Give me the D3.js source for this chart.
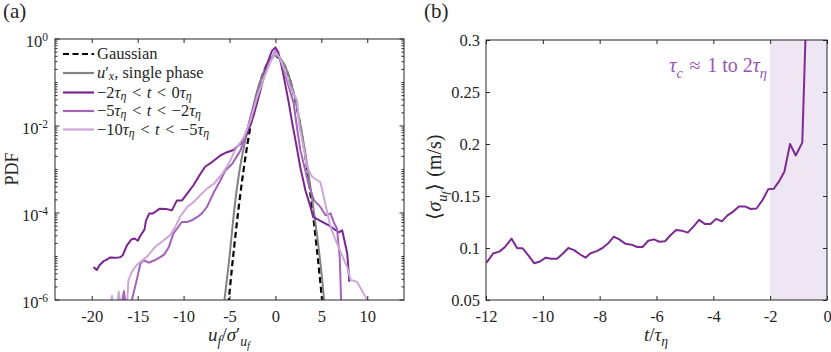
<!DOCTYPE html>
<html><head><meta charset="utf-8">
<script src="https://cdn.jsdelivr.net/npm/d3@7"></script>
<style>
body{margin:0;background:#fff}
svg text, svg tspan{font-family:"Liberation Serif","Times New Roman",serif}
text{fill:#262626}
</style>
</head><body>
<svg id="c" width="831" height="352"></svg>
<script>
// ---------------- DATA ----------------
// Panel (a): PDFs of u_f / sigma'_uf
const gaussU   = [-5.5,-5,-4.5,-4,-3.5,-3,-2.5,-2,-1.5,-1,-0.5,0,0.5,1,1.5,2,2.5,3,3.5,4,4.5,5,5.5];
const gaussPdf = [1.077e-7,1.487e-6,1.598e-5,1.338e-4,8.727e-4,4.432e-3,1.753e-2,5.399e-2,0.1295,0.2420,0.3521,0.3989,0.3521,0.2420,0.1295,5.399e-2,1.753e-2,4.432e-3,8.727e-4,1.338e-4,1.598e-5,1.487e-6,1.077e-7];

const singleU   = [-5.8,-5.55,-5.0,-4.45,-4.0,-3.5,-3.0,-2.5,-2.0,-1.5,-1.0,-0.5,0,0.5,1,1.5,2,2.5,3,3.5,4,4.5,5,5.3,5.5];
const singlePdf = [4e-7,1e-6,1e-5,1.35e-4,7.1e-4,2.8e-3,8.9e-3,2.4e-2,6.3e-2,0.132,0.234,0.339,0.41,0.363,0.251,0.135,5.6e-2,1.86e-2,5.0e-3,1.12e-3,2.1e-4,3.5e-5,4.5e-6,1e-6,3.2e-7];

const darkU   = [-19.81,-19.45,-19.16,-18.72,-18.36,-17.99,-17.45,-16.9,-16.61,-16.17,-15.70,-15.34,-14.98,-14.72,-14.25,-14.1,-13.74,-13.34,-12.98,-12.61,-11.89,-11.27,-10.72,-10.17,-9.63,-8.91,-8.18,-7.63,-6.9,-6.0,-5.27,-4.55,-3.82,-3.09,-2.37,-1.64,-0.91,-0.36,0.0,0.3,0.6,0.9,1.1,1.45,1.8,2.2,2.7,3.27,3.82,4.11,4.9,5.8,6.9,7.27,7.82,8.05];
const darkPdf = [5.75e-6,4.9e-6,6.3e-6,7.8e-6,8.5e-6,9.5e-6,9.3e-6,9.6e-6,1.07e-5,1.8e-5,2.45e-5,2.6e-5,2.3e-5,2.95e-5,4.2e-5,6.6e-5,9.8e-5,9.8e-5,1.1e-4,1.26e-4,1.23e-4,1.15e-4,1.95e-4,1.95e-4,2.75e-4,4.4e-4,7.9e-4,1.17e-3,1.48e-3,2.1e-3,2.5e-3,2.8e-3,3.9e-3,6.6e-3,1.74e-2,6.5e-2,0.27,0.54,0.64,0.5,0.28,0.14,8.5e-2,3.5e-2,1.26e-2,4.5e-3,1.15e-3,3.3e-4,1.38e-4,8.1e-5,6.6e-5,5.2e-5,3.6e-5,4.0e-5,1.17e-5,2.6e-6];

const medU   = [-16.9,-16.5,-16.2,-15.63,-15.1,-14.7,-14.4,-13.8,-13.1,-12.5,-12.1,-11.6,-11.1,-10.7,-10.2,-9.6,-9.1,-8.5,-8.0,-7.45,-6.7,-6.0,-5.45,-4.7,-3.8,-3.1,-2.5,-2.0,-1.3,-0.6,0,0.5,1.0,1.5,2.0,2.35,2.7,3.6,4.2,4.9,5.45,6.0,6.4,6.7,7.0,7.15,7.25];
const medPdf = [5e-7,1.6e-6,5e-7,1e-6,2.9e-6,6.9e-6,8.3e-6,7.2e-6,8.3e-6,9.8e-6,1.12e-5,1.66e-5,3.4e-5,4.4e-5,6.2e-5,6.2e-5,6.8e-5,8.1e-5,9.8e-5,1.38e-4,3.0e-4,5.6e-4,9.5e-4,1.35e-3,2.75e-3,7.9e-3,2.2e-2,4.8e-2,0.13,0.3,0.53,0.34,0.17,7.5e-2,3.2e-2,9e-3,2.9e-3,4.7e-4,1.95e-4,1.38e-4,8.9e-5,9.8e-5,5.8e-5,4.4e-5,9.8e-6,1e-6,3e-7];

const lightU   = [-18.2,-17.8,-17.45,-17.06,-16.6,-16.2,-16.0,-15.7,-15.3,-14.7,-14.0,-13.1,-12.2,-11.45,-10.9,-10.4,-9.6,-8.9,-8.2,-7.45,-6.7,-5.8,-5.1,-4.4,-3.45,-2.7,-2.0,-1.3,-0.6,0,0.5,1.0,1.6,2.0,2.36,2.6,2.9,3.45,4.0,4.9,6.0,6.7,7.8,8.2,8.9,10.0,10.2];
const lightPdf = [3e-7,1.25e-6,3e-7,1.55e-6,3e-7,6e-7,2.9e-6,4.1e-6,5.75e-6,7.6e-6,9.8e-6,1.66e-5,2.34e-5,3.1e-5,4.8e-5,8.1e-5,1.38e-4,1.78e-4,2.57e-4,3.63e-4,4.7e-4,7.9e-4,1.35e-3,2.75e-3,5.5e-3,1.35e-2,4.5e-2,0.12,0.28,0.49,0.36,0.2,8e-2,5.5e-2,3.85e-2,1.0e-2,5e-3,1.15e-3,6.8e-4,5.1e-4,4.8e-5,2.0e-5,5.75e-6,2.9e-6,2.6e-6,1e-6,5e-7];

// Panel (b): <sigma_uf> vs t/tau_eta
const tVals = [-11.98,-11.74,-11.53,-11.33,-11.1,-10.9,-10.71,-10.51,-10.3,-10.1,-9.9,-9.7,-9.5,-9.32,-9.1,-8.9,-8.7,-8.5,-8.32,-8.1,-7.9,-7.7,-7.5,-7.31,-7.09,-6.88,-6.68,-6.49,-6.29,-6.09,-5.9,-5.7,-5.5,-5.31,-5.11,-4.9,-4.7,-4.5,-4.29,-4.1,-3.9,-3.7,-3.5,-3.3,-3.1,-2.89,-2.68,-2.48,-2.27,-2.07,-1.87,-1.69,-1.5,-1.3,-1.1,-0.87,-0.67];
const sigmaVals = [0.086,0.095,0.0965,0.101,0.109,0.0997,0.0997,0.093,0.0853,0.087,0.0907,0.0897,0.0897,0.094,0.100,0.098,0.094,0.0907,0.095,0.097,0.100,0.1045,0.111,0.1083,0.104,0.1032,0.101,0.101,0.107,0.1083,0.106,0.1065,0.1125,0.1173,0.1167,0.1148,0.1205,0.127,0.123,0.123,0.128,0.1256,0.1314,0.135,0.140,0.140,0.1375,0.138,0.146,0.1564,0.157,0.164,0.1734,0.200,0.189,0.2013,0.38];

const xTicksA = [-20,-15,-10,-5,0,5,10];
const yTicksA = [1e-6,1e-4,1e-2,1];
const yExpA   = ["-6","-4","-2","0"];
const xTicksB = [-12,-10,-8,-6,-4,-2,0];
const yTicksB = [0.05,0.1,0.15,0.2,0.25,0.3];
const yLabelsB = ["0.05","0.1","0.15","0.2","0.25","0.3"];
const shadeRange = [-2,0];

// ---------------- DRAW ----------------
const svg = d3.select("#c");
const AX = "#262626";
const colDark = "#7b2590", colMed = "#a463b9", colLight = "#cca7d9", colGray = "#828282";
const FS = 16.5;
const SP = "\u2004";

function rich(sel, parts, size, subDrop) {
  const sd = subDrop == null ? 0.28 : subDrop;
  let level = 0;
  parts.forEach(p => {
    const [t, type, dx] = p;
    let target = 0, fs = size, it = false;
    if (type === "i") it = true;
    if (type === "sub") { target = sd*size; fs = 0.72*size; it = true; }
    if (type === "ss") { target = 0.4*size; fs = 0.55*size; it = true; }
    if (type === "sup") { target = -0.38*size; fs = 0.7*size; }
    const ts = sel.append("tspan").attr("dy", target - level).attr("font-size", fs)
      .attr("font-style", it ? "italic" : "normal").text(t);
    if (dx) ts.attr("dx", dx);
    level = target;
  });
}

// ===== Panel (a) =====
const xA = d3.scaleLinear().domain([-24,14]).range([55,404]);
const yA = d3.scaleLog().domain([1e-6,1]).range([300,39]);

svg.append("clipPath").attr("id","clipA").append("rect")
  .attr("x",55).attr("y",39).attr("width",349).attr("height",261);

const gA = svg.append("g");
const lineA = (U,P,curve) => d3.line().x((d,i)=>xA(U[i])).y((d,i)=>yA(P[i])).curve(curve||d3.curveLinear)(U);

const plotA = gA.append("g").attr("clip-path","url(#clipA)");
plotA.append("path").attr("d", lineA(gaussU,gaussPdf,d3.curveCatmullRom)).attr("fill","none")
  .attr("stroke","#000").attr("stroke-width",2.2).attr("stroke-dasharray","6,3.5");
plotA.append("path").attr("d", lineA(singleU,singlePdf,d3.curveCatmullRom)).attr("fill","none")
  .attr("stroke",colGray).attr("stroke-width",2);
plotA.append("path").attr("d", lineA(darkU,darkPdf)).attr("fill","none")
  .attr("stroke",colDark).attr("stroke-width",2).attr("stroke-linejoin","round");
plotA.append("path").attr("d", lineA(medU,medPdf)).attr("fill","none")
  .attr("stroke",colMed).attr("stroke-width",2).attr("stroke-linejoin","round");
plotA.append("path").attr("d", lineA(lightU,lightPdf)).attr("fill","none")
  .attr("stroke",colLight).attr("stroke-width",2).attr("stroke-linejoin","round");

// axes a
const axA = gA.append("g");
axA.append("g").attr("transform","translate(0,300)")
  .call(d3.axisBottom(xA).tickValues(xTicksA).tickSize(-4).tickPadding(10).tickFormat(d=>d<0?"-"+(-d):""+d))
  .call(g=>{g.select(".domain").remove(); g.attr("font-family",null); g.selectAll("line").attr("stroke",AX);
           g.selectAll("text").attr("font-size",FS).attr("fill",AX);});
axA.append("g").attr("transform","translate(0,39)")
  .call(d3.axisTop(xA).tickValues(xTicksA).tickSize(-4).tickFormat(""))
  .call(g=>{g.select(".domain").remove(); g.selectAll("line").attr("stroke",AX);});
const minorA = [];
for (let n=-6;n<0;n++) for (let k=2;k<=9;k++) minorA.push(k*Math.pow(10,n));
[1e-5,1e-3,1e-1].forEach(v=>minorA.push(v));
[[55,1],[404,-1]].forEach(([x0,s])=>{
  axA.selectAll(null).data(minorA).enter().append("line")
    .attr("x1",x0).attr("x2",x0+s*2.5).attr("y1",d=>yA(d)).attr("y2",d=>yA(d)).attr("stroke",AX);
  axA.selectAll(null).data(yTicksA).enter().append("line")
    .attr("x1",x0).attr("x2",x0+s*4.5).attr("y1",d=>yA(d)).attr("y2",d=>yA(d)).attr("stroke",AX);
});
yTicksA.forEach((v,i)=>{
  const t = axA.append("text").attr("x",48).attr("y",yA(v)+8).attr("text-anchor","end");
  rich(t,[["10","r"],[yExpA[i],"sup"]],FS);
});
gA.append("rect").attr("x",55).attr("y",39).attr("width",349).attr("height",261)
  .attr("fill","none").attr("stroke",AX).attr("stroke-width",1);

// legend a
const LT = SP+"<"+SP;
const legItems = [
  {stroke:"#000", dash:"6,3.5", parts:[["Gaussian","r"]]},
  {stroke:colGray, parts:[["u","i"],["′","r"],["x","sub"],[", single phase","r"]]},
  {stroke:colDark, parts:[["−2","r"],["τ","i"],["η","sub"],[LT,"r"],["t","i"],[LT+"0","r"],["τ","i"],["η","sub"]]},
  {stroke:colMed, parts:[["−5","r"],["τ","i"],["η","sub"],[LT,"r"],["t","i"],[LT+"−2","r"],["τ","i"],["η","sub"]]},
  {stroke:colLight, parts:[["−10","r"],["τ","i"],["η","sub"],[LT,"r"],["t","i"],[LT+"−5","r"],["τ","i"],["η","sub"]]}
];
const legY = [54,73,92.5,111,129.5];
legItems.forEach((it,i)=>{
  const y = legY[i];
  gA.append("line").attr("x1",63).attr("x2",94).attr("y1",y).attr("y2",y)
    .attr("stroke",it.stroke).attr("stroke-width",2.2).attr("stroke-dasharray",it.dash||null);
  const t = gA.append("text").attr("x",97).attr("y",y+5);
  rich(t,it.parts,16.5,0.13);
});

// labels a
const pdfL = svg.append("text").attr("transform","translate(18,169) rotate(-90)").attr("text-anchor","middle");
rich(pdfL,[["PDF","r"]],18);
const xlA = svg.append("text").attr("x",229).attr("y",341).attr("text-anchor","middle");
rich(xlA,[["u","i"],["f","sub"],["/","r"],["σ","i"],["′","r"],["u","sub"],["f","ss"]],19);
svg.append("text").attr("x",3).attr("y",18).attr("font-size",21).text("(a)");

// ===== Panel (b) =====
const xB = d3.scaleLinear().domain([-12,0]).range([486,827]);
const yB = d3.scaleLinear().domain([0.05,0.3]).range([300,40]);
svg.append("clipPath").attr("id","clipB").append("rect")
  .attr("x",486).attr("y",40).attr("width",341).attr("height",260);
const gB = svg.append("g");
gB.append("rect").attr("x",xB(shadeRange[0])).attr("y",40).attr("width",xB(shadeRange[1])-xB(shadeRange[0])).attr("height",260)
  .attr("fill","#efe6f4");
gB.append("g").attr("clip-path","url(#clipB)").append("path")
  .attr("d", d3.line().x((d,i)=>xB(tVals[i])).y((d,i)=>yB(sigmaVals[i]))(tVals))
  .attr("fill","none").attr("stroke","#7d2a93").attr("stroke-width",2).attr("stroke-linejoin","round");

gB.append("g").attr("transform","translate(0,300)")
  .call(d3.axisBottom(xB).tickValues(xTicksB).tickSize(-4).tickPadding(10).tickFormat(d=>d<0?"-"+(-d):""+d))
  .call(g=>{g.select(".domain").remove(); g.attr("font-family",null); g.selectAll("line").attr("stroke",AX);
           g.selectAll("text").attr("font-size",FS).attr("fill",AX);});
gB.append("g").attr("transform","translate(0,40)")
  .call(d3.axisTop(xB).tickValues(xTicksB).tickSize(-4).tickFormat(""))
  .call(g=>{g.select(".domain").remove(); g.selectAll("line").attr("stroke",AX);});
gB.append("g").attr("transform","translate(486,0)")
  .call(d3.axisLeft(yB).tickValues(yTicksB).tickSize(-4).tickPadding(6).tickFormat((d,i)=>yLabelsB[i]))
  .call(g=>{g.select(".domain").remove(); g.attr("font-family",null); g.selectAll("line").attr("stroke",AX);
           g.selectAll("text").attr("font-size",FS).attr("fill",AX);});
gB.append("g").attr("transform","translate(827,0)")
  .call(d3.axisRight(yB).tickValues(yTicksB).tickSize(-4).tickFormat(""))
  .call(g=>{g.select(".domain").remove(); g.selectAll("line").attr("stroke",AX);});
gB.append("rect").attr("x",486).attr("y",40).attr("width",341).attr("height",260)
  .attr("fill","none").attr("stroke",AX).attr("stroke-width",1);

const ann = gB.append("text").attr("x",767).attr("y",72).attr("text-anchor","end");
rich(ann,[["τ","i"],["c","sub"],[SP+"≈"+SP+"1 to 2","r"],["τ","i"],["η","sub"]],20);
ann.selectAll("tspan").style("fill","#9a52b2");

const ylB = svg.append("text").attr("transform","translate(441,177) rotate(-90)").attr("text-anchor","middle");
rich(ylB,[["⟨","r"],["σ","i"],["u","sub"],["f","ss"],["⟩"+SP+"(m/s)","r"]],20);
const xlB = svg.append("text").attr("x",656).attr("y",341).attr("text-anchor","middle");
rich(xlB,[["t","i"],["/","r"],["τ","i"],["η","sub"]],19);
svg.append("text").attr("x",424).attr("y",18).attr("font-size",21).text("(b)");
</script>
</body></html>
